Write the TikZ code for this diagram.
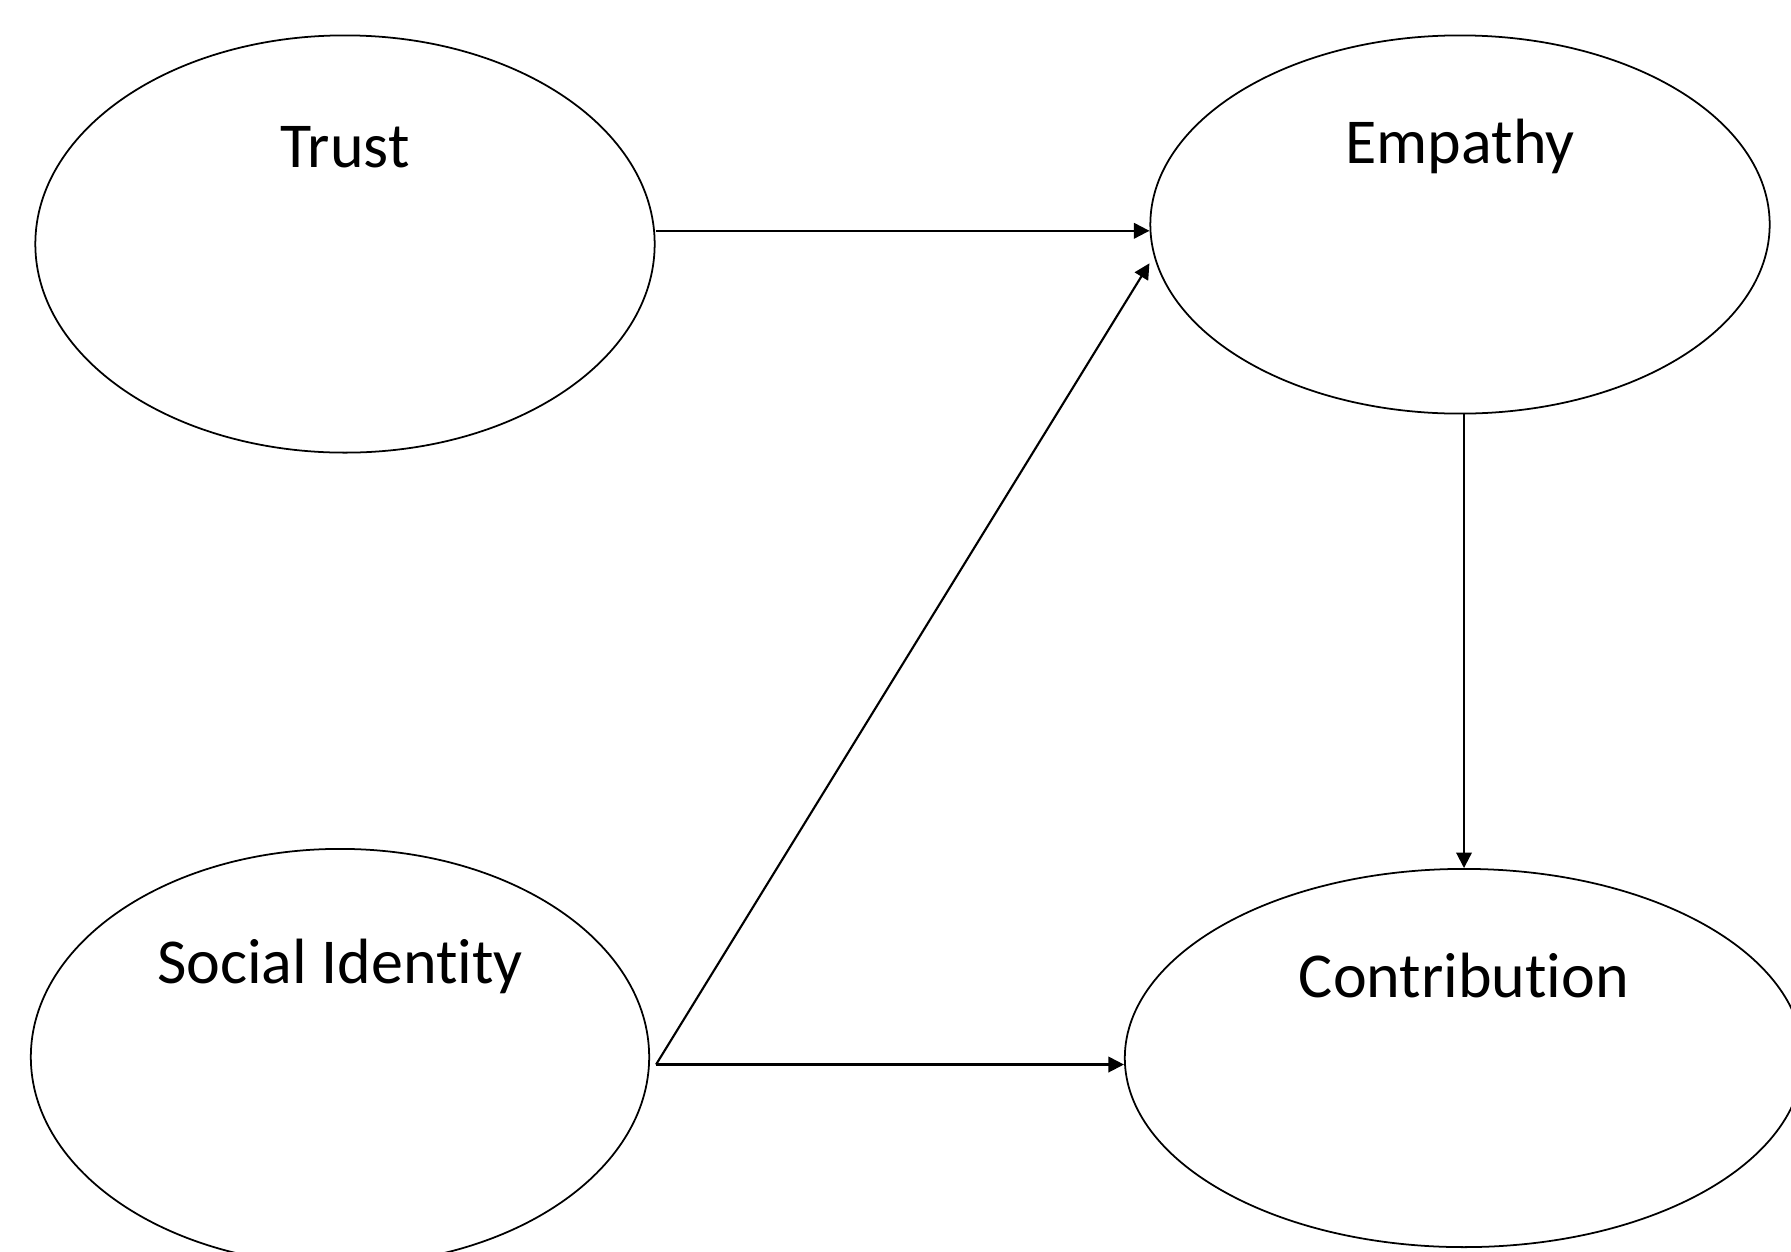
\documentclass[tikz,border=0pt]{standalone}
\usepackage{fontspec}
\setmainfont[Ligatures=NoCommon]{Carlito}
\usepackage{tikz}
\usetikzlibrary{calc,arrows.meta,shapes.geometric}

\tikzset{
  construct/.style={ellipse,draw,line width=0.5pt,inner sep=0pt},
  lbl/.style={anchor=base,inner sep=0pt,font=\fontsize{18.2}{22}\selectfont},
  conn/.style={-{Triangle[length=4.4pt,width=4.4pt]},line width=0.6pt}
}

\begin{document}
\begin{tikzpicture}[x=0.01cm,y=-0.01cm]
              \useasboundingbox (0,0) rectangle (1791,1251);
              \clip (0,0) rectangle (1791,1251);
              % constructs
              \node[construct,minimum width=6.19cm,minimum height=4.17cm](trust)at(345,244){};
              \node[construct,minimum width=6.19cm,minimum height=3.78cm](empathy)at(1460,224.5){};
              \node[construct,minimum width=6.18cm,minimum height=4.16cm](social)at(340,1057){};
              \node[construct,minimum width=6.78cm,minimum height=3.78cm](contrib)at(1464,1058){};
              \node[lbl](trustlbl)at(345,167){Trust};
              \node[lbl](empathylbl)at(1460,163){Empathy};
              \node[lbl](sociallbl)at(340,983){Social Identity};
              \node[lbl](contriblbl)at(1464,997){Contribution};
              % paths
              \coordinate(fork)at([xshift=0.06cm,yshift=-0.075cm]social.east);
              \draw[conn]([yshift=0.132cm]trust.east)--([yshift=0.132cm]trust.east -| empathy.west);
              \draw[conn](fork)--([yshift=-0.388cm]empathy.west);
              \draw[conn](fork)--(fork -| contrib.west);
              \draw[conn](empathy.south -| contrib.north)--(contrib.north);
            \end{tikzpicture}
\end{document}
